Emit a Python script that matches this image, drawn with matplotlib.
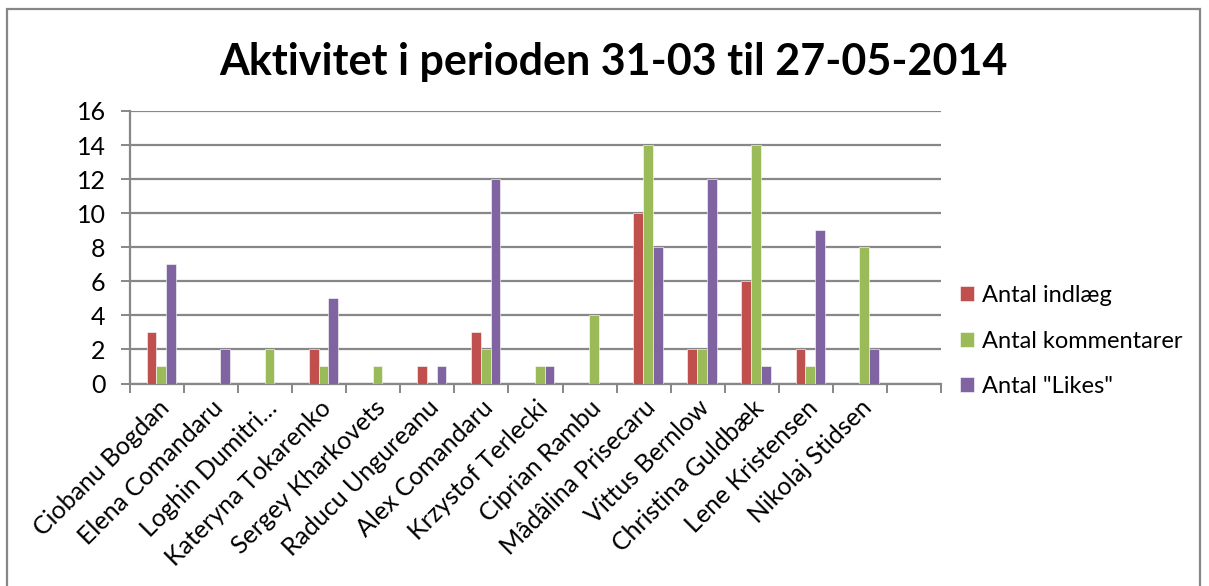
import numpy as np
import matplotlib.pyplot as plt
from matplotlib.patches import Rectangle

plt.rcParams["font.family"] = ["Lato", "DejaVu Sans"]

# data
names = [
    "Ciobanu Bogdan", "Elena Comandaru", "Loghin Dumitri…", "Kateryna Tokarenko",
    "Sergey Kharkovets", "Raducu Ungureanu", "Alex Comandaru", "Krzystof Terlecki",
    "Ciprian Rambu", "Mâdâlina Prisecaru", "Vittus Bernlow", "Christina Guldbæk",
    "Lene Kristensen", "Nikolaj Stidsen", "",
]
indlaeg = [3, 0, 0, 2, 0, 1, 3, 0, 0, 10, 2, 6, 2, 0, 0]
kommentarer = [1, 0, 2, 1, 1, 0, 2, 1, 4, 14, 2, 14, 1, 8, 0]
likes = [7, 2, 0, 5, 0, 1, 12, 1, 0, 8, 12, 1, 9, 2, 0]
series_labels = ["Antal indlæg", "Antal kommentarer", 'Antal "Likes"']

_C = ["#C0504D", "#9BBB59", "#8064A2"]
_GRID = "#878787"

W, H = 1209, 586
fig = plt.figure(figsize=(W / 100, H / 100), dpi=100)
ax = fig.add_axes([130 / W, 1 - 383.5 / H, (941 - 130) / W, (383.5 - 111) / H])

n = len(names)
x = np.arange(n)
bw = 0.18
shift = 0.08  # Excel draws the clusters slightly right of centre
for i, (vals, c, lab) in enumerate(zip([indlaeg, kommentarer, likes], _C, series_labels)):
    ax.bar(x + shift + (i - 1) * bw, vals, width=bw, color=c, label=lab,
           edgecolor="white", linewidth=0.4, zorder=3)

ax.set_xlim(-0.5, n - 0.5)
ax.set_ylim(0, 16)
ax.set_yticks(np.arange(0, 17, 2))
ax.yaxis.grid(True, color=_GRID, lw=1.6, zorder=0)
ax.set_axisbelow(True)

ax.set_xticks(x[:-1])
ax.set_xticklabels(names[:-1], rotation=45, ha="right", rotation_mode="anchor",
                   fontsize=18)
ax.set_xticks(np.arange(-0.5, n), minor=True)
ax.tick_params(axis="x", which="major", length=0, pad=9)
ax.tick_params(axis="x", which="minor", length=6.5, width=1.4, color=_GRID)
ax.tick_params(axis="y", length=6.5, width=1.4, color=_GRID, labelsize=18, pad=11)

for s in ("top", "right"):
    ax.spines[s].set_visible(False)
for s in ("left", "bottom"):
    ax.spines[s].set_color(_GRID)
    ax.spines[s].set_linewidth(1.6)

fig.text(613 / W, 1 - 62 / H, "Aktivitet i perioden 31-03 til 27-05-2014",
         ha="center", va="center", fontsize=31, fontweight="bold")

h, l = ax.get_legend_handles_labels()
fig.legend(h, l, loc="center left", bbox_to_anchor=(960 / W, 1 - 341 / H),
           frameon=False, fontsize=17, handlelength=0.6, handleheight=0.6,
           handletextpad=0.35, labelspacing=1.05, borderpad=0, borderaxespad=0)

# outer chart frame
fig.add_artist(Rectangle((7 / W, -0.05), (1200 - 7) / W, 1.05 - 9 / H,
                         transform=fig.transFigure, fill=False,
                         edgecolor=_GRID, lw=1.6))

fig.savefig("out.png", dpi=100)
